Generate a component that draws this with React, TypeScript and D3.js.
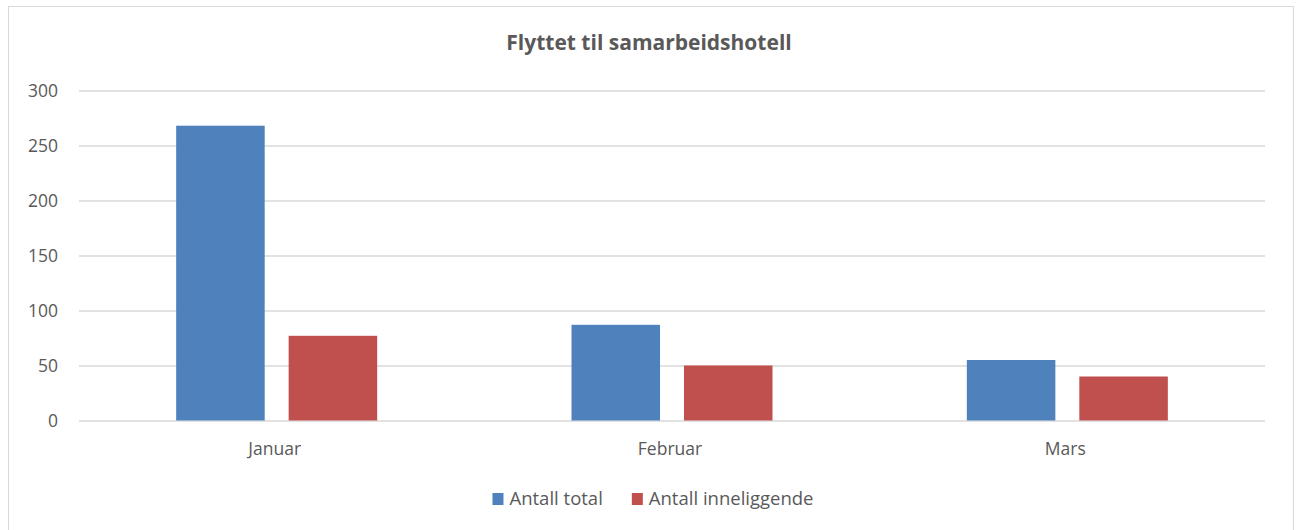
import React, { useEffect, useRef } from "react";
import * as d3 from "d3";

const categories = ["Januar", "Februar", "Mars"];
const seriesNames = ["Antall total", "Antall inneliggende"];
const antallTotal = [268, 87, 55];
const antallInneliggende = [77, 50, 40];
const yTicks = [0, 50, 100, 150, 200, 250, 300];
const colors = ["#4F81BD", "#C0504D"];
const title = "Flyttet til samarbeidshotell";

const FONT = "'Open Sans', sans-serif";
const TEXT = "#595959";

export default function App() {
  const ref = useRef<SVGSVGElement | null>(null);

  useEffect(() => {
    const svg = d3.select(ref.current);
    svg.selectAll("*").remove();
    const H = 530;
    const left = 79, right = 1265, top = 90.5, bottom = 420.5;

    // frame
    svg.append("rect")
      .attr("x", 8.5).attr("y", 6.5).attr("width", 1285).attr("height", H)
      .attr("fill", "#fff").attr("stroke", "#D9D9D9").attr("stroke-width", 1);

    svg.append("text")
      .attr("x", 649).attr("y", 50)
      .attr("text-anchor", "middle")
      .attr("font-family", FONT).attr("font-weight", 700).attr("font-size", 21)
      .attr("fill", TEXT).text(title);

    const y = d3.scaleLinear().domain([0, 300]).range([bottom, top]);
    const x0 = d3.scaleBand<string>().domain(categories).range([left, right]).padding(0);
    const groupW = 201;
    const x1 = d3.scaleBand<string>().domain(seriesNames).range([0, groupW]).paddingInner(0.213).paddingOuter(0);
    const offset = (x0.bandwidth() - groupW) / 2;

    const g = svg.append("g");
    g.selectAll("line.grid").data(yTicks).join("line")
      .attr("x1", left).attr("x2", right)
      .attr("y1", (d) => Math.round(y(d)))
      .attr("y2", (d) => Math.round(y(d)))
      .attr("stroke", "#D9D9D9").attr("stroke-width", 1.5);

    g.selectAll("text.ytick").data(yTicks).join("text")
      .attr("x", 58).attr("y", (d) => y(d)).attr("dy", "0.35em")
      .attr("text-anchor", "end")
      .attr("font-family", FONT).attr("font-size", 17.5).attr("fill", TEXT)
      .text((d) => String(d));

    const values = [antallTotal, antallInneliggende];
    seriesNames.forEach((s, si) => {
      g.selectAll(`rect.s${si}`).data(categories).join("rect")
        .attr("x", (c) => (x0(c) as number) + offset + (x1(s) as number))
        .attr("width", x1.bandwidth())
        .attr("y", (c, i) => y(values[si][i]))
        .attr("height", (c, i) => bottom - y(values[si][i]))
        .attr("fill", colors[si]);
    });

    g.selectAll("text.xcat").data(categories).join("text")
      .attr("x", (c) => (x0(c) as number) + x0.bandwidth() / 2 - 2)
      .attr("y", 455)
      .attr("text-anchor", "middle")
      .attr("font-family", FONT).attr("font-size", 17.5).attr("fill", TEXT)
      .text((c) => c);

    // legend
    const leg = svg.append("g");
    const items = seriesNames.map((s, i) => {
      const it = leg.append("g");
      it.append("rect").attr("x", 0).attr("y", -12).attr("width", 11).attr("height", 12).attr("fill", colors[i]);
      const t = it.append("text").attr("x", 17).attr("y", 0)
        .attr("font-family", FONT).attr("font-size", 18.5).attr("fill", TEXT).text(s);
      const w = 17 + (t.node() as SVGTextElement).getComputedTextLength();
      return { it, w };
    });
    const gap = 29;
    const total = items.reduce((a, b) => a + b.w, 0) + gap * (items.length - 1);
    let cx = 653 - total / 2;
    items.forEach(({ it, w }) => {
      it.attr("transform", `translate(${cx},505)`);
      cx += w + gap;
    });
  }, []);

  return (
    <svg ref={ref} width={1300} height={530}
      style={{ position: "absolute", left: 0, top: 0, display: "block" }} />
  );
}
